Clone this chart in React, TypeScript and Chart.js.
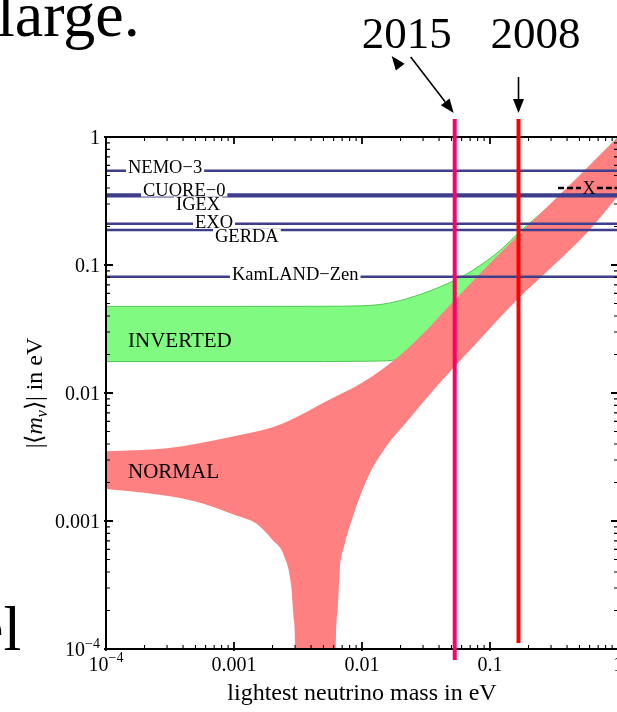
import { useEffect, useRef } from 'react';
import { Chart, registerables } from 'chart.js';

Chart.register(...registerables);

// ---------- axis ranges and tick labels (both axes in eV, log scale) ----------
const massRange = [1e-4, 1];
const effRange = [1e-4, 1];
const massTicks = [1e-4, 1e-3, 1e-2, 1e-1, 1];
const massTickLabels = ['10^−4', '0.001', '0.01', '0.1', '1'];
const effTicks = [1e-4, 1e-3, 1e-2, 1e-1, 1];
const effTickLabels = ['10^−4', '0.001', '0.01', '0.1', '1'];

// ---------- normal ordering band: edges of |<m_nu>| vs lightest mass ----------
const normalUpperMass = [1e-4, 3e-4, 1e-3, 2e-3, 3e-3, 5e-3, 0.01, 0.02, 0.03, 0.05, 0.1, 0.2, 0.5, 1];
const normalUpperValue = [0.0035, 0.0037, 0.0046, 0.0054, 0.0064, 0.0084, 0.012, 0.0198, 0.029, 0.05, 0.103, 0.205, 0.5, 1.0];
const normalLowerMass = [
  1e-4, 2e-4, 5e-4, 1e-3, 1.5e-3, 2e-3, 2.45e-3, 2.8e-3, 2.93e-3, 3.0e-3, 3.05e-3,
  6.1e-3, 6.25e-3, 6.45e-3, 6.7e-3, 7.3e-3, 8e-3, 0.0109, 0.0157, 0.0225, 0.0406, 0.0735, 0.162, 0.33, 0.6, 1,
];
const normalLowerValue = [
  0.00178, 0.00166, 0.00142, 0.00112, 0.00095, 0.00071, 0.00054, 0.00031, 0.00017, 0.0001, 1e-6,
  1e-6, 0.0001, 0.0002, 0.00041, 0.00065, 0.0009, 0.0021, 0.0039, 0.006, 0.012, 0.0229, 0.0533, 0.104, 0.188, 0.346,
];

// ---------- inverted ordering band ----------
const invertedUpperMass = [1e-4, 1e-3, 0.005, 0.01, 0.0165, 0.03, 0.053, 0.0735, 0.12, 0.172, 0.3, 1];
const invertedUpperValue = [0.0475, 0.0475, 0.0476, 0.048, 0.0505, 0.06, 0.076, 0.091, 0.13, 0.183, 0.298, 0.99];
const invertedLowerMass = [1e-4, 1e-3, 0.005, 0.01, 0.0174, 0.03, 0.05, 0.1, 0.3, 1];
const invertedLowerValue = [0.0176, 0.0176, 0.0176, 0.0177, 0.018, 0.021, 0.026, 0.044, 0.12, 0.39];

// ---------- experimental limits on |<m_nu>| (eV) ----------
const experimentNames = ['NEMO−3', 'CUORE−0', 'IGEX', 'EXO', 'GERDA', 'KamLAND−Zen'];
const experimentLimits = [0.545, 0.355, 0.345, 0.21, 0.188, 0.081];

// ---------- sensitivity marks on the lightest mass ----------
const yearLabels = ['2015', '2008'];
const yearMasses = [0.053, 0.167];

// ---------- marker drawn at the upper right ----------
const markerText = 'X';
const markerLevel = 0.4;
const markerStart = 0.34;
const markerCentre = 0.593;

// ---------- band names ----------
const bandNames = ['INVERTED', 'NORMAL'];
const bandLabelLevels = [0.026, 0.00244];

// ---------- styling / layout ----------
const SERIF = "'Liberation Serif', 'Times New Roman', Times, serif";
const PINK = 'rgb(255,128,128)';
const GREEN = 'rgb(128,250,128)';
const GREEN_EDGE = 'rgb(80,200,80)';
const LIMIT_BLUE = 'rgb(62,62,140)';
const YEAR_COLORS = ['rgb(255,0,102)', 'rgb(255,0,0)'];
// label offsets: dx from the left frame edge, dy from the limit line (px)
const limitLabelLayout = [
  { dx: 22, dy: -4 },
  { dx: 37, dy: -5 },
  { dx: 70, dy: 7.5 },
  { dx: 89, dy: -2 },
  { dx: 109, dy: 6 },
  { dx: 126, dy: -3 },
];

const toPoints = (xs: number[], ys: number[]) => xs.map((x, i) => ({ x, y: ys[i] }));

function drawPowerLabel(ctx: CanvasRenderingContext2D, label: string, x: number, yMid: number, align: 'center' | 'right', size: number) {
  const [base, sup] = label.split('^');
  const supSize = Math.round(size * 0.72);
  ctx.font = `${size}px ${SERIF}`;
  const wb = ctx.measureText(base).width;
  let ws = 0;
  if (sup) {
    ctx.font = `${supSize}px ${SERIF}`;
    ws = ctx.measureText(sup).width;
  }
  const total = wb + ws;
  const x0 = align === 'center' ? x - total / 2 : x - total;
  const baseline = yMid + size * 0.34;
  ctx.textAlign = 'left';
  ctx.textBaseline = 'alphabetic';
  ctx.font = `${size}px ${SERIF}`;
  ctx.fillText(base, x0, baseline);
  if (sup) {
    ctx.font = `${supSize}px ${SERIF}`;
    ctx.fillText(sup, x0 + wb, baseline - size * 0.42);
  }
}

function arrowHead(ctx: CanvasRenderingContext2D, tipX: number, tipY: number, dirX: number, dirY: number, len: number, half: number) {
  const n = Math.hypot(dirX, dirY);
  const ux = dirX / n;
  const uy = dirY / n;
  const bx = tipX - ux * len;
  const by = tipY - uy * len;
  ctx.beginPath();
  ctx.moveTo(tipX, tipY);
  ctx.lineTo(bx + uy * half, by - ux * half);
  ctx.lineTo(bx - uy * half, by + ux * half);
  ctx.closePath();
  ctx.fill();
}

const decorations = {
  id: 'decorations',
  afterDatasetsDraw(chart: any) {
    const { ctx, chartArea: a } = chart;
    const xs = chart.scales.x;
    const ys = chart.scales.y;
    ctx.save();

    // limit labels interrupt their lines
    ctx.font = `18.5px ${SERIF}`;
    const boxes = experimentNames.map((name, i) => {
      const lay = limitLabelLayout[i];
      const lx = a.left + lay.dx;
      const cy = ys.getPixelForValue(experimentLimits[i]) + lay.dy;
      const w = ctx.measureText(name).width;
      return { name, lx, cy, w };
    });
    ctx.fillStyle = '#fff';
    boxes.forEach((b) => ctx.fillRect(b.lx - 2, b.cy - 7, b.w + 4, 14));
    ctx.fillStyle = '#000';
    ctx.textAlign = 'left';
    ctx.textBaseline = 'alphabetic';
    boxes.forEach((b) => ctx.fillText(b.name, b.lx, b.cy + 6));

    // band names
    ctx.font = `21px ${SERIF}`;
    bandNames.forEach((name, i) => {
      ctx.fillText(name, a.left + 22, ys.getPixelForValue(bandLabelLevels[i]) + 7);
    });

    // dashed marker with its letter
    const my = ys.getPixelForValue(markerLevel);
    const mx0 = xs.getPixelForValue(markerStart);
    const mxc = xs.getPixelForValue(markerCentre);
    ctx.strokeStyle = '#000';
    ctx.lineWidth = 2.6;
    ctx.setLineDash([6, 3]);
    ctx.beginPath();
    ctx.moveTo(mx0, my);
    ctx.lineTo(mxc - 8, my);
    ctx.moveTo(mxc + 8, my);
    ctx.lineTo(a.right + 20, my);
    ctx.stroke();
    ctx.setLineDash([]);
    ctx.font = `18px ${SERIF}`;
    ctx.textAlign = 'center';
    ctx.fillText(markerText, mxc, my + 6);
    ctx.restore();
  },
  afterDraw(chart: any) {
    const { ctx, chartArea: a } = chart;
    const xs = chart.scales.x;
    const ys = chart.scales.y;
    ctx.save();

    // frame
    ctx.strokeStyle = '#000';
    ctx.lineWidth = 2;
    ctx.strokeRect(a.left, a.top, a.right - a.left, a.bottom - a.top);

    // inward ticks on all four sides
    for (let e = -4; e <= 0; e++) {
      for (let k = 1; k <= 9; k++) {
        const v = k * Math.pow(10, e);
        if (v > 1.0000001) break;
        const major = k === 1;
        const len = major ? 7 : 4;
        ctx.lineWidth = major ? 1.8 : 1.1;
        const px = xs.getPixelForValue(v);
        const py = ys.getPixelForValue(v);
        ctx.beginPath();
        ctx.moveTo(px, a.top);
        ctx.lineTo(px, a.top + len);
        ctx.moveTo(px, a.bottom + (major ? 2 : 0));
        ctx.lineTo(px, a.bottom - len);
        ctx.moveTo(a.left - (major ? 2 : 0), py);
        ctx.lineTo(a.left + len, py);
        ctx.moveTo(a.right, py);
        ctx.lineTo(a.right - len, py);
        ctx.stroke();
      }
    }

    // tick labels
    ctx.fillStyle = '#000';
    massTicks.forEach((v, i) => drawPowerLabel(ctx, massTickLabels[i], xs.getPixelForValue(v), a.bottom + 15, 'center', 20));
    effTicks.forEach((v, i) => drawPowerLabel(ctx, effTickLabels[i], a.left - 6, ys.getPixelForValue(v) + 0.5, 'right', 20));

    // x title
    ctx.font = `24px ${SERIF}`;
    ctx.textAlign = 'center';
    ctx.textBaseline = 'alphabetic';
    ctx.fillText('lightest neutrino mass in eV', (a.left + a.right) / 2, a.bottom + 51);

    // y title, rotated, with italic m and subscript nu
    const parts = [
      { t: '|⟨', f: `24px ${SERIF}`, dy: 0 },
      { t: 'm', f: `italic 24px ${SERIF}`, dy: 0 },
      { t: 'ν', f: `italic 16px ${SERIF}`, dy: 5 },
      { t: '⟩| in eV', f: `24px ${SERIF}`, dy: 0 },
    ];
    let total = 0;
    const widths = parts.map((p) => {
      ctx.font = p.f;
      const w = ctx.measureText(p.t).width;
      total += w;
      return w;
    });
    ctx.save();
    ctx.translate(a.left - 72, (a.top + a.bottom) / 2);
    ctx.rotate(-Math.PI / 2);
    ctx.textAlign = 'left';
    let cx = -total / 2;
    parts.forEach((p, i) => {
      ctx.font = p.f;
      ctx.fillText(p.t, cx, 8 + p.dy);
      cx += widths[i];
    });
    ctx.restore();

    // year marks: vertical lines, labels and arrows
    const lineX = yearMasses.map((m) => xs.getPixelForValue(m));
    const lineBottoms = [a.bottom + 11, a.bottom - 6];
    ctx.lineWidth = 4;
    lineX.forEach((px, i) => {
      ctx.strokeStyle = YEAR_COLORS[i];
      ctx.beginPath();
      ctx.moveTo(px, a.top - 18);
      ctx.lineTo(px, lineBottoms[i]);
      ctx.stroke();
    });

    ctx.fillStyle = '#000';
    ctx.font = `45px ${SERIF}`;
    ctx.textAlign = 'center';
    ctx.fillText(yearLabels[0], lineX[0] - 48, 48);
    ctx.fillText(yearLabels[1], lineX[1] + 17, 48);

    ctx.strokeStyle = '#000';
    ctx.lineWidth = 1.6;
    // slanted arrow to the first line
    const tip1x = lineX[0] - 1;
    const tip1y = a.top - 24;
    const d1x = 43;
    const d1y = 56;
    ctx.beginPath();
    ctx.moveTo(tip1x - d1x, tip1y - d1y);
    ctx.lineTo(tip1x - d1x * 0.2, tip1y - d1y * 0.2);
    ctx.stroke();
    arrowHead(ctx, tip1x, tip1y, d1x, d1y, 14, 5.5);
    arrowHead(ctx, tip1x - 62, tip1y - 57, -d1x, -d1y, 14, 5.5);
    // straight arrow to the second line
    const tip2x = lineX[1];
    const tip2y = a.top - 24;
    ctx.beginPath();
    ctx.moveTo(tip2x, tip2y - 36);
    ctx.lineTo(tip2x, tip2y - 10);
    ctx.stroke();
    arrowHead(ctx, tip2x, tip2y, 0, 1, 14, 5.5);

    // surrounding slide text
    ctx.font = `64px ${SERIF}`;
    ctx.textAlign = 'left';
    ctx.fillText('large.', -3, 36);
    ctx.fillText('el', -25, 650);
    ctx.restore();
  },
};

export default function App() {
  const ref = useRef<HTMLCanvasElement>(null);

  useEffect(() => {
    const canvas = ref.current;
    if (!canvas) return;
    const limitSets = experimentNames.map((name, i) => ({
      label: name,
      data: [
        { x: massRange[0], y: experimentLimits[i] },
        { x: massRange[1], y: experimentLimits[i] },
      ],
      borderColor: LIMIT_BLUE,
      borderWidth: 2.5,
      fill: false,
      order: 1,
    }));
    const chart = new Chart(canvas, {
      type: 'scatter',
      data: {
        datasets: [
          ...limitSets,
          {
            label: 'normal upper',
            data: toPoints(normalUpperMass, normalUpperValue),
            borderColor: 'transparent',
            borderWidth: 0,
            fill: false,
            cubicInterpolationMode: 'monotone',
            order: 2,
          },
          {
            label: 'normal lower',
            data: toPoints(normalLowerMass, normalLowerValue),
            borderColor: 'transparent',
            borderWidth: 0,
            backgroundColor: PINK,
            fill: '-1',
            cubicInterpolationMode: 'monotone',
            order: 2,
          },
          {
            label: 'inverted upper',
            data: toPoints(invertedUpperMass, invertedUpperValue),
            borderColor: GREEN_EDGE,
            borderWidth: 1,
            fill: false,
            cubicInterpolationMode: 'monotone',
            order: 3,
          },
          {
            label: 'inverted lower',
            data: toPoints(invertedLowerMass, invertedLowerValue),
            borderColor: GREEN_EDGE,
            borderWidth: 1,
            backgroundColor: GREEN,
            fill: '-1',
            cubicInterpolationMode: 'monotone',
            order: 3,
          },
        ],
      } as any,
      options: {
        animation: false,
        responsive: false,
        devicePixelRatio: 1,
        events: [],
        showLine: true,
        layout: { padding: { top: 137, right: 22, left: 0, bottom: 0 } },
        elements: { point: { radius: 0 } },
        plugins: { legend: { display: false }, tooltip: { enabled: false } },
        scales: {
          x: {
            type: 'logarithmic',
            min: massRange[0],
            max: massRange[1],
            ticks: { display: false },
            grid: { display: false },
            border: { display: false },
            afterFit: (s: any) => {
              s.height = 63;
            },
          },
          y: {
            type: 'logarithmic',
            min: effRange[0],
            max: effRange[1],
            ticks: { display: false },
            grid: { display: false },
            border: { display: false },
            afterFit: (s: any) => {
              s.width = 106;
            },
          },
        },
      } as any,
      plugins: [decorations],
    });
    return () => chart.destroy();
  }, []);

  return (
    <div style={{ position: 'fixed', left: 0, top: 0, width: 617, height: 712, overflow: 'hidden', background: '#fff' }}>
      <canvas ref={ref} width={640} height={712} style={{ display: 'block', width: 640, height: 712 }} />
    </div>
  );
}
